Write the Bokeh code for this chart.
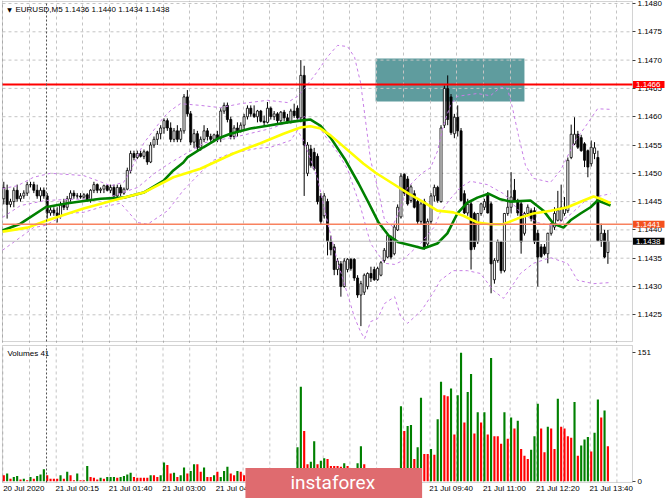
import numpy as np
from bokeh.plotting import figure
from bokeh.layouts import column
from bokeh.models import Range1d, FixedTicker, PrintfTickFormatter, Label, BoxAnnotation
from bokeh.embed import file_html
from bokeh.resources import INLINE

# ---------------- DATA ----------------
symbol = "EURUSD,M5"
pip_base = 1.1400      # price values below are pips above this level
pip_size = 0.0001

open_pips = [
    45.5, 47.0, 44.5, 45.0, 47.0, 45.5, 46.0, 46.5, 48.0, 48.0,
    47.0, 46.0, 47.0, 46.0, 43.0, 43.5, 43.0, 42.5, 44.5, 44.0,
    45.5, 46.5, 46.0, 46.0, 45.8, 46.2, 45.2, 47.0, 48.0, 47.0,
    47.2, 47.8, 47.0, 47.5, 46.0, 47.5, 46.5, 47.2, 50.5, 53.5,
    52.8, 53.5, 53.0, 53.8, 52.0, 55.0, 56.0, 57.0, 58.0, 59.3,
    58.0, 56.0, 57.5, 56.0, 57.5, 63.5, 60.5, 55.5, 57.0, 54.5,
    56.0, 57.5, 56.5, 56.0, 56.8, 56.2, 61.0, 62.0, 59.5, 56.5,
    58.0, 57.5, 58.5, 60.0, 61.5, 60.5, 60.0, 61.0, 59.2, 59.0,
    61.5, 60.0, 60.5, 59.3, 60.8, 59.8, 59.0, 61.0, 61.5, 59.8,
    67.3, 50.0, 54.3, 53.7, 53.0, 46.0, 42.5, 45.0, 38.0, 37.0,
    33.0, 34.0, 30.0, 33.0, 34.8, 34.8, 31.5, 28.5, 29.0, 30.0,
    32.3, 33.0, 31.2, 32.0, 34.6, 35.2, 38.7, 35.8, 40.0, 42.3,
    49.8, 49.0, 45.2, 46.4, 45.0, 41.5, 45.0, 37.5, 41.5, 46.0,
    47.5, 45.0, 58.5, 65.0, 63.5, 57.0, 59.9, 57.5, 46.4, 43.0,
    44.6, 42.9, 37.9, 42.9, 44.0, 46.4, 44.6, 31.2, 34.6, 37.9,
    32.8, 42.9, 44.0, 47.0, 45.2, 44.6, 39.4, 42.9, 43.4, 43.4,
    39.4, 37.0, 37.0, 35.8, 39.4, 40.5, 41.7, 41.7, 42.9, 43.4,
    52.8, 55.2, 56.9, 56.3, 55.2, 54.0, 51.7, 53.5, 52.8, 38.1,
    39.4, 36.0]
high_pips = [
    48.5, 48.0, 45.5, 47.5, 48.0, 46.5, 47.0, 48.5, 48.5, 48.5,
    48.0, 47.5, 47.5, 46.5, 44.0, 44.0, 44.0, 45.0, 45.5, 46.0,
    47.0, 47.0, 46.5, 46.5, 46.5, 46.5, 47.2, 48.5, 48.2, 47.5,
    48.0, 48.0, 48.0, 48.0, 48.0, 48.0, 47.5, 51.0, 54.0, 54.0,
    54.0, 54.0, 54.2, 54.0, 55.5, 56.5, 57.5, 58.5, 59.7, 59.7,
    59.0, 58.0, 58.5, 58.0, 64.0, 64.7, 61.0, 57.8, 57.5, 56.5,
    58.5, 58.0, 57.0, 57.0, 57.5, 61.5, 62.5, 62.5, 60.0, 58.5,
    59.0, 59.0, 60.5, 62.0, 62.0, 62.0, 61.2, 61.2, 60.2, 62.6,
    61.8, 61.0, 60.8, 61.0, 61.2, 60.5, 61.4, 62.3, 62.0, 70.0,
    69.0, 55.5, 55.0, 54.5, 53.5, 46.5, 46.5, 45.5, 39.0, 37.5,
    35.0, 34.5, 35.0, 35.0, 35.0, 35.0, 32.0, 31.0, 32.3, 32.5,
    33.5, 33.5, 33.5, 34.5, 36.8, 39.3, 39.0, 41.0, 44.5, 50.0,
    50.0, 49.5, 48.0, 47.0, 45.5, 45.0, 45.5, 42.0, 46.5, 48.0,
    47.8, 58.5, 65.5, 67.3, 64.0, 60.5, 62.0, 58.0, 47.0, 45.5,
    45.0, 43.2, 43.0, 44.8, 45.5, 46.7, 45.0, 35.0, 38.3, 38.0,
    43.0, 47.0, 50.2, 49.0, 45.5, 45.0, 43.2, 44.5, 43.8, 44.0,
    40.0, 37.5, 37.5, 39.5, 41.2, 44.0, 46.9, 48.0, 45.8, 52.8,
    58.6, 59.9, 57.5, 56.8, 55.5, 54.2, 55.8, 55.5, 54.0, 41.1,
    40.0, 40.0]
low_pips = [
    44.5, 42.0, 44.0, 44.0, 45.0, 45.0, 45.5, 46.0, 47.5, 46.5,
    45.5, 45.0, 45.5, 42.0, 42.5, 42.5, 41.3, 42.0, 43.5, 43.5,
    45.0, 45.5, 45.5, 45.5, 45.5, 45.0, 44.8, 46.5, 46.5, 46.5,
    46.5, 46.8, 46.5, 45.5, 45.5, 46.0, 46.2, 47.0, 50.0, 52.3,
    52.5, 52.8, 52.5, 51.5, 51.8, 54.5, 55.0, 56.0, 57.0, 57.5,
    55.5, 55.5, 55.5, 55.5, 57.0, 60.0, 55.0, 54.5, 53.8, 54.0,
    55.5, 55.8, 55.5, 55.5, 55.5, 55.5, 60.5, 59.0, 56.0, 56.0,
    56.5, 57.2, 57.8, 59.5, 60.0, 59.8, 59.0, 59.0, 58.4, 58.8,
    59.5, 59.4, 58.8, 59.0, 59.2, 58.8, 58.8, 59.8, 59.5, 59.0,
    46.0, 49.5, 51.0, 50.5, 44.5, 41.0, 42.0, 35.5, 35.5, 32.0,
    32.0, 28.2, 29.8, 32.5, 32.8, 31.0, 28.0, 23.0, 28.5, 29.5,
    30.8, 31.0, 31.0, 31.8, 34.2, 35.0, 34.8, 35.5, 39.8, 42.0,
    46.0, 44.3, 44.8, 43.8, 41.0, 41.0, 36.5, 37.0, 41.0, 45.0,
    44.8, 44.8, 58.0, 58.5, 56.8, 56.2, 56.5, 45.0, 42.8, 42.5,
    33.0, 36.5, 37.5, 42.5, 43.5, 42.9, 28.8, 30.5, 34.2, 32.3,
    32.5, 42.5, 42.9, 45.0, 42.5, 35.8, 39.0, 42.5, 41.5, 37.5,
    30.0, 35.0, 35.5, 34.1, 39.0, 40.0, 41.5, 41.5, 42.5, 43.0,
    52.5, 55.0, 54.3, 53.8, 51.1, 49.3, 51.2, 52.5, 38.0, 37.0,
    35.0, 34.0]
close_pips = [
    47.5, 44.5, 45.0, 47.0, 45.5, 46.0, 46.5, 48.0, 48.0, 47.0,
    46.0, 47.0, 46.0, 43.0, 43.5, 43.0, 42.5, 44.5, 44.0, 45.5,
    46.5, 46.0, 46.0, 45.8, 46.2, 45.2, 47.0, 48.0, 47.0, 47.2,
    47.8, 47.0, 47.5, 46.0, 47.5, 46.5, 47.2, 50.5, 53.5, 52.8,
    53.5, 53.0, 53.8, 52.0, 55.0, 56.0, 57.0, 58.0, 59.3, 58.0,
    56.0, 57.5, 56.0, 57.5, 63.5, 60.5, 55.5, 57.0, 54.5, 56.0,
    57.5, 56.5, 56.0, 56.8, 56.2, 61.0, 62.0, 59.5, 56.5, 58.0,
    57.5, 58.5, 60.0, 61.5, 60.5, 60.0, 61.0, 59.2, 59.0, 61.5,
    60.0, 60.5, 59.3, 60.8, 59.8, 59.0, 61.0, 60.2, 59.8, 67.3,
    55.0, 55.0, 51.4, 50.8, 45.0, 41.5, 46.0, 38.0, 36.5, 33.0,
    34.5, 30.0, 34.5, 34.8, 33.2, 31.5, 28.5, 30.5, 32.0, 32.3,
    31.5, 31.2, 33.2, 34.2, 36.4, 39.0, 35.2, 40.5, 44.0, 49.5,
    46.5, 44.6, 47.6, 44.0, 41.5, 44.6, 37.0, 41.5, 46.0, 47.5,
    45.2, 58.0, 65.0, 59.5, 57.2, 59.9, 57.5, 45.2, 43.0, 44.5,
    36.5, 37.0, 42.9, 44.6, 45.0, 43.0, 34.0, 34.6, 37.9, 32.8,
    42.9, 44.0, 45.8, 45.2, 43.0, 37.9, 42.9, 44.0, 42.0, 37.9,
    35.2, 35.3, 35.8, 39.4, 41.1, 42.9, 43.4, 44.0, 44.0, 52.3,
    56.9, 56.9, 54.6, 54.0, 52.3, 51.1, 54.6, 54.5, 38.1, 39.4,
    35.2, 38.0]
volumes = [
    7, 9, 3, 5, 6, 2, 3, 1, 5, 3, 6, 8, 14, 7, 3, 3, 3, 7, 3, 11,
    7, 1, 9, 1, 1, 18, 5, 4, 2, 4, 3, 5, 5, 5, 4, 5, 6, 8, 10, 5,
    4, 4, 4, 4, 7, 7, 5, 7, 22, 19, 9, 10, 5, 7, 16, 9, 12, 20, 20, 11,
    16, 5, 5, 7, 11, 5, 12, 17, 9, 7, 12, 11, 7,
    6, 9, 5, 8, 4, 7, 10, 6, 5, 8, 12, 6, 9, 7, 11,
    40, 111, 59, 20, 23, 47, 20, 24, 27, 26, 18, 18, 18, 17, 21, 18, 14, 12, 21, 41, 20,
    13, 9, 11, 7, 10, 12, 14, 8, 11, 13,
    88, 59, 65, 66, 26, 40, 98, 32, 32, 38,
    31, 73, 117, 101, 100, 109, 55, 101, 151, 69,
    105, 126, 56, 81, 69, 81, 55, 145, 53, 53,
    44, 81, 50, 75, 62, 71, 38, 30, 26, 37,
    53, 91, 62, 34, 64, 62, 38, 97, 64, 62,
    53, 51, 93, 30, 42, 49, 52, 35, 57, 96,
    75, 83, 41]
# g = volume above previous bar (green), r = below (red)
volume_flags = ("rgrggrgrgr" "gggrrrrgrg" "rrgrrgrrrg" "rgggrggggr" "rrrrgrrggr"
                "rgrggrggrr" "grrgrgggrr" "grr"
                "rgrgrggrrggrgrg"
                "ggrrggrggrrrrrgrrrggr"
                "rrgrgggrgg"
                "grggrggrrg" "rggrrgrggr" "ggrgrgrgrr" "rgrgrgrrrg" "ggrrgrrgrr"
                "rrgrgggrgg" "rgr")

# time axis: bar positions of the labelled grid lines, and their labels
time_label_bars = [-0.3, 15.7, 31.7, 47.7, 63.7, 79.7, 95.7, 111.7, 127.7, 143.7, 159.7, 175.7]
time_labels = ["20 Jul 2020", "21 Jul 00:15", "21 Jul 01:40", "21 Jul 03:00", "21 Jul 04:20",
               "21 Jul 05:40", "21 Jul 07:00", "21 Jul 08:20", "21 Jul 09:40", "21 Jul 11:00",
               "21 Jul 12:20", "21 Jul 13:40"]
day_start_bar = 12.8
price_ticks = [1.1425, 1.1430, 1.1435, 1.1440, 1.1445, 1.1450,
               1.1455, 1.1460, 1.1465, 1.1470, 1.1475, 1.1480]

resistance_level = 1.14657
support_level = 1.1441
bid_level = 1.1438
zone_bar_start, zone_bar_end = 111.4, 156.0
zone_top, zone_bottom = 1.14703, 1.14627

# indicators (bar, pips)
ma_green_bar = [-0.4, 5.0, 12.5, 19.1, 29.0, 35.9, 41.9, 47.9, 50.8, 53.8, 55.0, 59.8, 64.0, 67.9,
                73.9, 79.0, 85.0, 88.9, 91.9, 94.9, 97.9, 102.4, 106.3, 109.3, 112.3, 115.3, 118.3,
                122.5, 125.7, 129.9, 132.9, 135.9, 138.9, 141.9, 145.2, 148.8, 151.8, 157.8, 161.7,
                164.7, 167.7, 169.8, 172.8, 175.8, 177.9, 179.7, 181.8]
ma_green_pips = [39.9, 41.1, 44.0, 44.7, 45.5, 45.7, 46.6, 48.7, 50.5, 51.9, 52.8, 54.6, 56.1, 57.0,
                 57.9, 58.4, 59.0, 59.3, 59.5, 58.4, 56.3, 52.3, 48.2, 44.8, 41.3, 39.0, 37.8,
                 37.2, 36.7, 37.6, 39.4, 42.9, 44.8, 45.7, 46.4, 45.4, 45.0, 45.2, 43.4,
                 41.1, 40.4, 41.7, 42.9, 44.0, 45.2, 44.8, 44.3]
ma_yellow_bar = [-0.4, 7.1, 13.1, 23.9, 34.1, 41.9, 50.8, 58.9, 68.8, 76.9, 83.8, 88.9, 91.9, 94.9,
                 97.9, 107.8, 111.4, 116.5, 121.3, 126.4, 129.9, 134.7, 137.7, 141.9, 145.8, 149.7,
                 153.9, 158.7, 163.9, 168.9, 173.7, 176.7, 178.8, 181.8]
ma_yellow_pips = [39.7, 40.4, 41.7, 43.8, 45.4, 46.6, 49.3, 50.8, 53.5, 55.3, 57.0, 58.1, 58.3, 57.9,
                  56.7, 51.7, 50.1, 48.2, 46.4, 44.7, 43.4, 43.1, 42.5, 41.3, 41.0, 41.0,
                  42.0, 42.9, 43.4, 44.0, 45.2, 45.9, 45.5, 44.7]
bb_upper_bar = [-0.4, 4.1, 8.9, 14.0, 23.9, 28.1, 32.0, 35.9, 38.0, 41.9, 47.9, 50.0, 52.9, 58.9,
                64.9, 70.9, 79.0, 85.0, 88.0, 90.1, 94.0, 97.0, 100.0, 103.0, 105.1, 106.9, 108.1,
                109.9, 112.0, 114.1, 116.5, 118.9, 121.0, 125.2, 127.9, 130.0, 131.7, 133.8, 135.9,
                141.9, 145.8, 148.8, 150.9, 152.4, 154.2, 156.3, 158.7, 163.8, 166.8, 168.3, 171.3,
                174.9, 177.9, 181.8]
bb_upper_pips = [47.3, 47.8, 49.3, 50.0, 49.6, 48.7, 47.8, 48.4, 50.5, 55.3, 59.9, 61.1, 62.3, 62.0,
                 61.6, 62.3, 62.9, 62.5, 63.6, 65.0, 68.0, 70.6, 72.6, 72.4, 70.5, 66.0, 60.6,
                 52.3, 47.5, 41.7, 40.6, 44.0, 47.5, 50.0, 51.0, 54.0, 58.4, 62.0, 63.6,
                 64.1, 63.7, 65.2, 65.0, 61.6, 56.7, 51.4, 49.1, 48.4, 50.5, 52.3, 55.8,
                 58.8, 61.4, 61.3]
bb_mid_bar = [-0.4, 5.0, 12.5, 20.0, 30.2, 40.1, 45.2, 50.0, 60.1, 70.0, 79.9, 88.0, 90.1, 94.0,
              97.0, 100.0, 103.0, 106.9, 109.9, 114.1, 117.1, 118.9, 121.0, 125.2, 129.1, 130.8,
              133.8, 136.8, 139.8, 144.9, 150.0, 154.8, 159.9, 165.0, 170.1, 174.9, 181.8]
bb_mid_pips = [42.2, 44.3, 45.2, 45.4, 45.5, 47.5, 50.0, 51.9, 55.4, 56.5, 57.9, 59.6, 60.0, 58.6,
               56.0, 53.7, 50.7, 44.0, 37.6, 34.1, 33.9, 34.4, 35.5, 37.8, 40.6, 43.1,
               45.5, 47.5, 48.6, 48.0, 46.3, 43.1, 41.3, 40.6, 42.9, 45.5, 46.4]
bb_lower_bar = [-0.4, 5.0, 8.9, 12.5, 19.1, 23.9, 29.0, 35.0, 40.1, 43.1, 49.1, 53.8, 58.9, 62.8,
                67.9, 76.0, 79.9, 85.9, 88.0, 88.9, 90.1, 94.0, 97.0, 100.0, 103.0, 105.1, 106.9,
                108.1, 109.9, 112.0, 114.1, 117.1, 118.9, 121.0, 125.2, 129.1, 130.8, 134.7, 138.9,
                142.8, 146.7, 149.7, 152.4, 154.8, 158.7, 163.8, 168.9, 171.9, 176.7, 181.8]
bb_lower_pips = [36.4, 38.7, 40.4, 40.8, 42.9, 43.1, 44.0, 44.7, 41.3, 41.0, 43.4, 47.0, 50.1, 52.3,
                 53.5, 54.4, 54.6, 55.8, 57.6, 56.7, 55.4, 49.1, 41.3, 34.4, 28.6, 24.5, 22.0,
                 20.8, 23.8, 24.3, 27.0, 28.2, 24.7, 23.5, 25.8, 29.3, 31.1, 32.8, 32.8,
                 32.3, 29.3, 27.9, 30.2, 32.3, 34.1, 35.1, 34.1, 31.1, 30.5, 30.7]

# ---------------- PLOT ----------------
def to_price(pips):
    return pip_base + np.asarray(pips, dtype=float) * pip_size

n = len(close_pips)
bars = np.arange(n)
o, h, l, c = (to_price(a) for a in (open_pips, high_pips, low_pips, close_pips))
up = c >= o
vols = np.asarray(volumes)
vol_colors = ["#008000" if f == "g" else "#ff0000" for f in volume_flags]

FONT = "Liberation Sans"
GRID = "#c4c4c4"
FRAME = "#6d6d6d"
W, H_TOP, H_BOT = 665, 343, 156
grid_bars = [-0.3 + 8 * m for m in range(24)]
# frames fill the whole canvas; the visible chart borders are drawn as boxes
x_range = Range1d(-0.989, 198.26)
XL, XR = -0.39, 188.37                  # chart border (left edge / price-axis line)
P_TOP, P_BOT = 1.148035, 1.142028       # main panel border
V_TOP, V_BOT = 159.6, -1.5              # volume panel border

# ---- main price panel ----
p = figure(width=W, height=H_TOP, x_range=x_range, y_range=Range1d(1.141993, 1.148053),
           x_axis_location=None, y_axis_location="right", output_backend="svg",
           toolbar_location=None, min_border=0)
p.background_fill_color = "white"
p.border_fill_color = "white"
p.outline_line_color = None
p.xgrid.ticker = FixedTicker(ticks=grid_bars)
p.xgrid.grid_line_color = GRID
p.xgrid.grid_line_dash = "3 3"
p.ygrid.visible = False
p.segment(x0=XL, y0=price_ticks, x1=XR, y1=price_ticks, line_color=GRID, line_dash="3 3",
          line_width=1, level="underlay")

ax = p.yaxis[0]
ax.fixed_location = XR
ax.ticker = FixedTicker(ticks=price_ticks)
ax.formatter = PrintfTickFormatter(format="%.4f")
ax.major_label_text_font = FONT
ax.major_label_text_font_size = "8px"
ax.major_label_text_color = "black"
ax.axis_line_color = None
ax.major_tick_line_color = "#404040"
ax.major_tick_out = 3
ax.major_tick_in = 0
ax.minor_tick_line_color = None
ax.major_label_standoff = 2

# highlighted zone
p.quad(left=[zone_bar_start], right=[zone_bar_end], top=[zone_top], bottom=[zone_bottom],
       fill_color="#5f9c9e", line_color=None, level="image")

# candles
p.segment(x0=bars, y0=l, x1=bars, y1=h, line_color="black", line_width=1)
p.vbar(x=bars[up], width=0.62, top=c[up], bottom=o[up],
       fill_color="white", line_color="black", line_width=0.8)
p.vbar(x=bars[~up], width=0.62, top=o[~up], bottom=c[~up],
       fill_color="black", line_color="black", line_width=0.8)

# Bollinger bands
for bx, by in ((bb_upper_bar, bb_upper_pips), (bb_mid_bar, bb_mid_pips), (bb_lower_bar, bb_lower_pips)):
    p.line(bx, to_price(by), line_color="#c77ee6", line_dash="3 3", line_width=1)
# moving averages
p.line(ma_green_bar, to_price(ma_green_pips), line_color="#008000", line_width=2.6)
p.line(ma_yellow_bar, to_price(ma_yellow_pips), line_color="#ffff00", line_width=2.6)

# horizontal levels and day separator
p.segment(x0=XL, y0=bid_level, x1=XR, y1=bid_level, line_color="#bcbcbc", line_width=1)
p.segment(x0=XL, y0=support_level, x1=XR, y1=support_level, line_color="#f8825f", line_width=1.5)
p.segment(x0=XL, y0=resistance_level, x1=XR, y1=resistance_level, line_color="#ff0000", line_width=2)
p.segment(x0=day_start_bar, y0=P_BOT, x1=day_start_bar, y1=P_TOP, line_color="#505050",
          line_dash="2 2", line_width=1)

p.add_layout(BoxAnnotation(left=XL, right=XR, top=P_TOP, bottom=P_BOT, fill_color=None,
                           line_color=FRAME, line_width=1))

# price tags on the axis (label anchor = left edge of its box)
for lvl, bg in ((resistance_level, "#ff0000"), (support_level, "#f4511e"), (bid_level, "#000000")):
    p.add_layout(Label(x=188.53, y=lvl, text=f"{lvl:.4f}", text_font=FONT, text_font_size="8px",
                       text_color="white", background_fill_color=bg, text_align="left",
                       text_baseline="middle", padding=dict(left=3, right=4, top=1, bottom=1)))

title_text = f"{symbol}  {o[-1]:.4f} {h[-1]:.4f} {l[-1]:.4f} {c[-1]:.4f}"
p.add_layout(Label(x=1.0, y=1.147894, text="\u25bc", text_font="DejaVu Sans", text_font_size="6px",
                   text_color="black", text_align="left", text_baseline="middle"))
p.add_layout(Label(x=3.5, y=1.147894, text=title_text, text_font=FONT, text_font_size="8px",
                   text_color="black", text_align="left", text_baseline="middle"))

# ---- volume panel ----
pv = figure(width=W, height=H_BOT, x_range=x_range, y_range=Range1d(-21.52, 161.94),
            y_axis_location="right", output_backend="svg", toolbar_location=None, min_border=0)
pv.background_fill_color = "white"
pv.border_fill_color = "white"
pv.outline_line_color = None
pv.xgrid.visible = False
pv.ygrid.visible = False
pv.segment(x0=grid_bars, y0=V_BOT, x1=grid_bars, y1=V_TOP, line_color=GRID, line_dash="3 3",
           line_width=1, level="underlay")

vy = pv.yaxis[0]
vy.fixed_location = XR
vy.ticker = FixedTicker(ticks=[0, int(vols.max())])
vy.major_label_text_font = FONT
vy.major_label_text_font_size = "8px"
vy.major_label_text_color = "black"
vy.axis_line_color = None
vy.major_tick_line_color = "#404040"
vy.major_tick_out = 3
vy.major_tick_in = 0
vy.minor_tick_line_color = None
vy.major_label_standoff = 2

label_centres = [int(round(b + 6.3)) for b in time_label_bars]
vx = pv.xaxis[0]
vx.fixed_location = V_BOT
vx.ticker = FixedTicker(ticks=label_centres)
vx.major_label_overrides = {k: t for k, t in zip(label_centres, time_labels)}
vx.major_label_text_font = FONT
vx.major_label_text_font_size = "8px"
vx.major_label_text_color = "black"
vx.axis_line_color = None
vx.major_tick_line_color = None
vx.minor_tick_line_color = None
vx.major_tick_out = 0
vx.major_tick_in = 0
vx.major_label_standoff = 2

pv.vbar(x=bars, width=0.64, top=vols, bottom=0, fill_color=vol_colors, line_color=None)
pv.segment(x0=day_start_bar, y0=V_BOT, x1=day_start_bar, y1=V_TOP, line_color="#505050",
           line_dash="2 2", line_width=1)
pv.add_layout(BoxAnnotation(left=XL, right=XR, top=V_TOP, bottom=V_BOT, fill_color=None,
                            line_color=FRAME, line_width=1))
pv.add_layout(Label(x=1.1, y=150.2, text=f"Volumes {volumes[-1]}", text_font=FONT,
                    text_font_size="8px", text_color="black", text_align="left",
                    text_baseline="middle"))
# watermark logo (label anchor = left edge of its box)
pv.add_layout(Label(x=72.4, y=-2.1, text="instaforex", text_font="Roboto", text_font_size="19px",
                    text_color="white", background_fill_color="#df6b6f", text_align="left",
                    text_baseline="middle", padding=dict(left=45, right=47, top=3, bottom=4)))

layout = column(p, pv, spacing=0)
open("out.html", "w").write(file_html(layout, INLINE, title="EURUSD M5"))
